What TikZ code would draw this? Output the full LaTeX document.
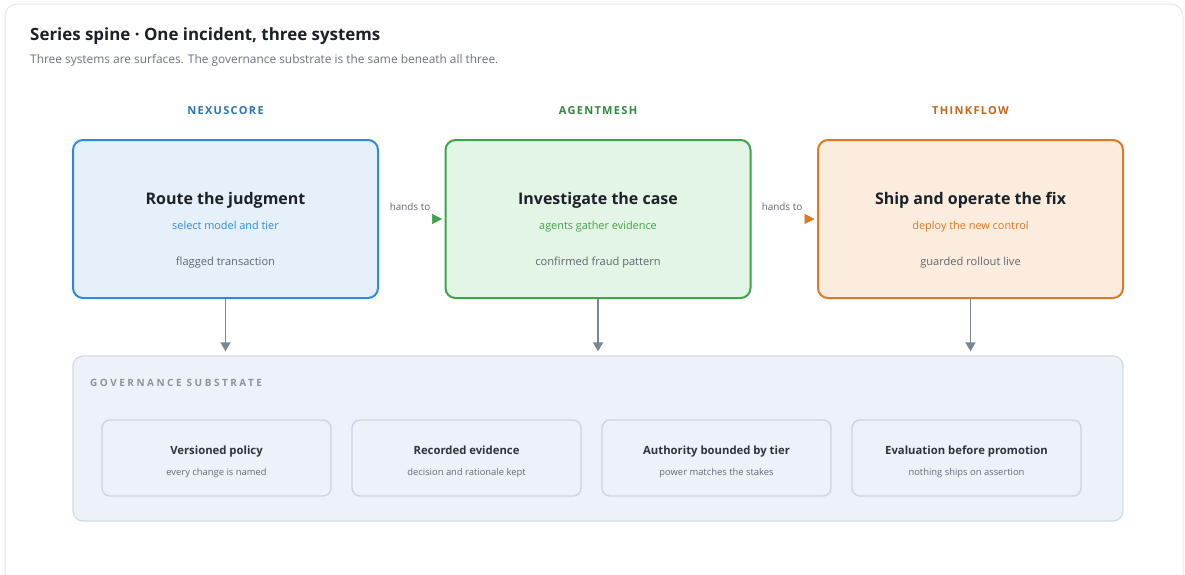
\documentclass[tikz,border=0pt]{standalone}
\usepackage{fontspec}
\setmainfont{Open Sans}
\usetikzlibrary{arrows.meta}
\definecolor{cardborder}{HTML}{E3E7EE}
\definecolor{titlecol}{HTML}{1C2128}
\definecolor{subcol}{HTML}{6B7280}
\definecolor{bstroke}{HTML}{2E8AD8}
\definecolor{bfill}{HTML}{E6F0FA}
\definecolor{blabel}{HTML}{2A74B8}
\definecolor{gstroke}{HTML}{3EA34A}
\definecolor{gfill}{HTML}{E3F5E4}
\definecolor{glabel}{HTML}{2E8B3A}
\definecolor{ostroke}{HTML}{DC7A26}
\definecolor{ofill}{HTML}{FCECDD}
\definecolor{olabel}{HTML}{C8651A}
\definecolor{greytext}{HTML}{5F6670}
\definecolor{arrowgrey}{HTML}{7C8594}
\definecolor{subfill}{HTML}{EDF1F8}
\definecolor{subdraw}{HTML}{D3DBE7}
\definecolor{carddraw}{HTML}{CCD5E1}
\definecolor{govlabel}{HTML}{8A94A1}
\definecolor{cardtitle}{HTML}{2D3440}
\definecolor{cardsub}{HTML}{646C78}
\tikzset{
  even/.style={text height=0.74em, text depth=0.24em},
  sysbox/.style={rectangle, rounded corners=10pt, line width=2pt, minimum width=305pt, minimum height=158pt, inner sep=0pt},
  syslabel/.style={even, font=\bfseries\fontsize{11}{13}\selectfont\addfontfeatures{LetterSpace=12}},
  boxtitle/.style={even, font=\bfseries\fontsize{16}{19}\selectfont, text=titlecol},
  boxsub/.style={even, font=\fontsize{10.9}{13}\selectfont},
  boxnote/.style={even, font=\fontsize{11.1}{13}\selectfont, text=greytext},
  handslabel/.style={even, font=\fontsize{9.9}{11}\selectfont, text=greytext},
  downarrow/.style={draw=arrowgrey, line width=1.5pt, -{Triangle[length=9pt,width=10pt]}, shorten >=4pt},
  handarrow/.style={draw=white, line width=0.5pt, shorten <=4pt, shorten >=2.5pt},
  govcard/.style={rectangle, rounded corners=8pt, fill=subfill, draw=carddraw, line width=1.4pt, minimum width=229pt, minimum height=76pt, inner sep=0pt},
  cardtitlestyle/.style={even, font=\bfseries\fontsize{11.3}{14}\selectfont, text=cardtitle},
  cardsubstyle/.style={even, font=\fontsize{9.4}{11}\selectfont, text=cardsub},
}
\begin{document}
\begin{tikzpicture}[x=1pt,y=-1pt]
\useasboundingbox (0,0) rectangle (1185,574);
\begin{scope}
\clip (0,0) rectangle (1185,574);
\draw[cardborder, line width=1pt, rounded corners=12pt, fill=white] (5,4) rectangle (1183,600);
\end{scope}

\node[anchor=base west, inner sep=0pt, font=\bfseries\fontsize{16.9}{20}\selectfont, text=titlecol] (title) at (30,40) {Series spine · One incident, three systems};
\node[anchor=base west, inner sep=0pt, font=\fontsize{11.9}{14}\selectfont, text=subcol] (subtitle) at (30,63) {Three systems are surfaces. The governance substrate is the same beneath all three.};

% column labels
\node[syslabel, text=blabel] (l1) at (225.5,112) {NEXUSCORE};
\node[syslabel, text=glabel] (l2) at (598,112) {AGENTMESH};
\node[syslabel, text=olabel] (l3) at (970.5,112) {THINKFLOW};

% system boxes
\node[sysbox, draw=bstroke, fill=bfill] (b1) at (225.5,219) {};
\node[sysbox, draw=gstroke, fill=gfill] (b2) at (598,219) {};
\node[sysbox, draw=ostroke, fill=ofill] (b3) at (970.5,219) {};

\node[boxtitle] (t1) at (225.5,201.5) {Route the judgment};
\node[boxsub, text=bstroke] (s1) at (225.5,226.5) {select model and tier};
\node[boxnote] (n1) at (225.5,263) {flagged transaction};

\node[boxtitle] (t2) at (598,201.5) {Investigate the case};
\node[boxsub, text=gstroke] (s2) at (598,226.5) {agents gather evidence};
\node[boxnote] (n2) at (598,263) {confirmed fraud pattern};

\node[boxtitle] (t3) at (970.5,201.5) {Ship and operate the fix};
\node[boxsub, text=ostroke] (s3) at (970.5,226.5) {deploy the new control};
\node[boxnote] (n3) at (970.5,263) {guarded rollout live};

% hand-offs
\node[handslabel] (h1) at (410,208) {hands to};
\node[handslabel] (h2) at (782,208) {hands to};
\draw[handarrow, -{Triangle[length=10pt,width=10pt,color=gstroke]}] (b1.east) -- (b2.west);
\draw[handarrow, -{Triangle[length=10pt,width=10pt,color=ostroke]}] (b2.east) -- (b3.west);

% substrate
\node[rectangle, rounded corners=10pt, fill=subfill, draw=subdraw, line width=1.3pt, minimum width=1050pt, minimum height=165pt, inner sep=0pt] (sub) at (598,438.5) {};
\node[anchor=west, inner sep=0pt, font=\bfseries\fontsize{10}{12}\selectfont\addfontfeatures{LetterSpace=25}, text=govlabel] (gov) at (90,382.5) {GOVERNANCE SUBSTRATE};

\draw[downarrow] (b1.south) -- (b1.south |- sub.north);
\draw[downarrow] (b2.south) -- (b2.south |- sub.north);
\draw[downarrow] (b3.south) -- (b3.south |- sub.north);

% governance cards
\node[govcard] (c1) at (216.5,458) {};
\node[govcard] (c2) at (466.5,458) {};
\node[govcard] (c3) at (716.5,458) {};
\node[govcard] (c4) at (966.5,458) {};

\node[cardtitlestyle] (ct1) at (216.5,452) {Versioned policy};
\node[cardsubstyle] (cs1) at (216.5,473) {every change is named};
\node[cardtitlestyle] (ct2) at (466.5,452) {Recorded evidence};
\node[cardsubstyle] (cs2) at (466.5,473) {decision and rationale kept};
\node[cardtitlestyle] (ct3) at (716.5,452) {Authority bounded by tier};
\node[cardsubstyle] (cs3) at (716.5,473) {power matches the stakes};
\node[cardtitlestyle] (ct4) at (966.5,452) {Evaluation before promotion};
\node[cardsubstyle] (cs4) at (966.5,473) {nothing ships on assertion};
\end{tikzpicture}
\end{document}
